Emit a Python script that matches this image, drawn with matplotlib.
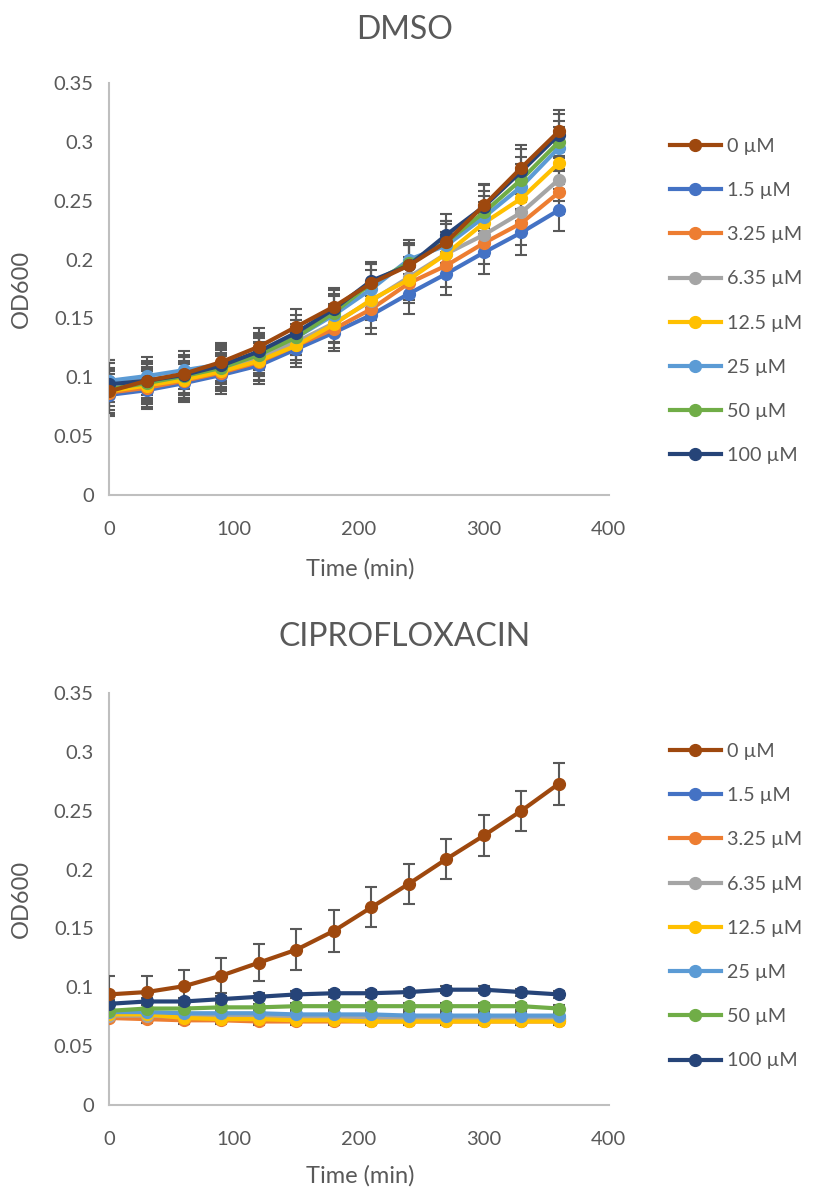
import numpy as np
import matplotlib.pyplot as plt
from matplotlib.lines import Line2D

plt.rcParams['font.family'] = ['Lato', 'DejaVu Sans']

time = [0, 30, 60, 90, 120, 150, 180, 210, 240, 270, 300, 330, 360]
labels = ['0 µM', '1.5 µM', '3.25 µM', '6.35 µM', '12.5 µM', '25 µM', '50 µM', '100 µM']
colors = ['#9E480E', '#4472C4', '#ED7D31', '#A5A5A5', '#FFC000', '#5B9BD5', '#70AD47', '#264478']

# DMSO panel
dmso_0 = [0.088, 0.097, 0.103, 0.113, 0.126, 0.143, 0.160, 0.180, 0.195, 0.215, 0.246, 0.278, 0.309]
dmso_1_5 = [0.085, 0.089, 0.095, 0.102, 0.110, 0.124, 0.138, 0.153, 0.171, 0.188, 0.206, 0.223, 0.242]
dmso_3_25 = [0.087, 0.091, 0.097, 0.104, 0.113, 0.127, 0.141, 0.158, 0.180, 0.195, 0.214, 0.231, 0.257]
dmso_6_35 = [0.097, 0.098, 0.101, 0.107, 0.117, 0.130, 0.146, 0.165, 0.185, 0.205, 0.221, 0.240, 0.268]
dmso_12_5 = [0.088, 0.093, 0.098, 0.105, 0.114, 0.127, 0.145, 0.166, 0.183, 0.205, 0.231, 0.252, 0.282]
dmso_25 = [0.097, 0.101, 0.106, 0.111, 0.120, 0.134, 0.153, 0.175, 0.200, 0.212, 0.236, 0.262, 0.295]
dmso_50 = [0.090, 0.095, 0.101, 0.108, 0.119, 0.134, 0.155, 0.180, 0.197, 0.215, 0.240, 0.268, 0.300]
dmso_100 = [0.094, 0.097, 0.102, 0.110, 0.122, 0.138, 0.158, 0.182, 0.195, 0.221, 0.245, 0.275, 0.306]
dmso_err = [0.018, 0.016, 0.016, 0.016, 0.016, 0.015, 0.016, 0.016, 0.017, 0.018, 0.018, 0.019, 0.018]

# Ciprofloxacin panel
cip_0 = [0.094, 0.096, 0.101, 0.110, 0.121, 0.132, 0.148, 0.168, 0.188, 0.209, 0.229, 0.250, 0.273]
cip_1_5 = [0.077, 0.077, 0.076, 0.075, 0.075, 0.074, 0.074, 0.073, 0.073, 0.073, 0.073, 0.073, 0.073]
cip_3_25 = [0.074, 0.073, 0.072, 0.072, 0.071, 0.071, 0.071, 0.071, 0.071, 0.071, 0.071, 0.071, 0.071]
cip_6_35 = [0.076, 0.076, 0.075, 0.075, 0.075, 0.074, 0.074, 0.074, 0.074, 0.074, 0.074, 0.074, 0.074]
cip_12_5 = [0.077, 0.077, 0.074, 0.073, 0.073, 0.072, 0.072, 0.071, 0.071, 0.071, 0.071, 0.071, 0.071]
cip_25 = [0.079, 0.079, 0.078, 0.078, 0.078, 0.077, 0.077, 0.077, 0.076, 0.076, 0.076, 0.076, 0.076]
cip_50 = [0.080, 0.082, 0.082, 0.083, 0.083, 0.084, 0.084, 0.084, 0.084, 0.084, 0.084, 0.084, 0.082]
cip_100 = [0.086, 0.088, 0.088, 0.090, 0.092, 0.094, 0.095, 0.095, 0.096, 0.098, 0.098, 0.096, 0.094]
cip_err_0 = [0.016, 0.014, 0.014, 0.015, 0.016, 0.0175, 0.018, 0.017, 0.017, 0.017, 0.017, 0.017, 0.018]
cip_err_rest = [0.003, 0.003, 0.003, 0.003, 0.003, 0.003, 0.003, 0.003, 0.003, 0.003, 0.003, 0.003, 0.003]

dmso = [dmso_0, dmso_1_5, dmso_3_25, dmso_6_35, dmso_12_5, dmso_25, dmso_50, dmso_100]
cipro = [cip_0, cip_1_5, cip_3_25, cip_6_35, cip_12_5, cip_25, cip_50, cip_100]

txt = '#595959'
fig = plt.figure(figsize=(8.18, 11.89), dpi=100)


def panel(rect, series, errs, title, title_y, leg_y, xlab_y):
    ax = fig.add_axes(rect)
    # draw series 1..7 first, then 0 µM on top
    order = list(range(1, 8)) + [0]
    for k, i in enumerate(order):
        ax.errorbar(time, series[i], yerr=errs[i], fmt='none', ecolor='#595959',
                    elinewidth=1.5, capsize=4.5, capthick=1.5, zorder=2 + k * 0.1)
    for k, i in enumerate(order):
        ax.plot(time, series[i], color=colors[i], lw=3, marker='o', ms=8.5,
                solid_joinstyle='round', solid_capstyle='round', zorder=3 + k * 0.1)
    ax.set_xlim(0, 400)
    ax.set_ylim(0, 0.35)
    ax.set_xticks([0, 100, 200, 300, 400])
    ax.set_yticks(np.arange(0, 0.351, 0.05))
    ax.set_yticklabels(['0', '0.05', '0.1', '0.15', '0.2', '0.25', '0.3', '0.35'])
    for s in ['top', 'right']:
        ax.spines[s].set_visible(False)
    for s in ['left', 'bottom']:
        ax.spines[s].set_color('#BFBFBF')
        ax.spines[s].set_linewidth(1.5)
    ax.tick_params(length=0, labelsize=14.5, colors=txt)
    ax.tick_params(axis='x', pad=19)
    ax.tick_params(axis='y', pad=11)
    ax.set_xlabel('Time (min)', fontsize=17, color=txt)
    ax.set_ylabel('OD600', fontsize=17, color=txt)
    ax.xaxis.set_label_coords(0.502, xlab_y)
    ax.yaxis.set_label_coords(-0.154, 0.5)
    fig.text(0.495, title_y, title, ha='center', va='center', fontsize=23, color=txt)
    handles = [Line2D([0], [0], color=c, lw=3, marker='o', ms=8.5) for c in colors]
    ax.legend(handles, labels, loc='upper left', bbox_to_anchor=(1.086, leg_y),
              frameon=False, fontsize=14.2, labelcolor=txt, labelspacing=1.38,
              handlelength=2.6, handletextpad=0.3)
    return ax


panel([0.1333, 0.5837, 0.611, 0.3465], dmso, [dmso_err] * 8, 'DMSO', 0.975, 0.91, -0.153)
panel([0.1333, 0.0706, 0.611, 0.3465], cipro, [cip_err_0] + [cip_err_rest] * 7,
      'CIPROFLOXACIN', 0.464, 0.922, -0.146)

plt.savefig('out.png', dpi=100)
